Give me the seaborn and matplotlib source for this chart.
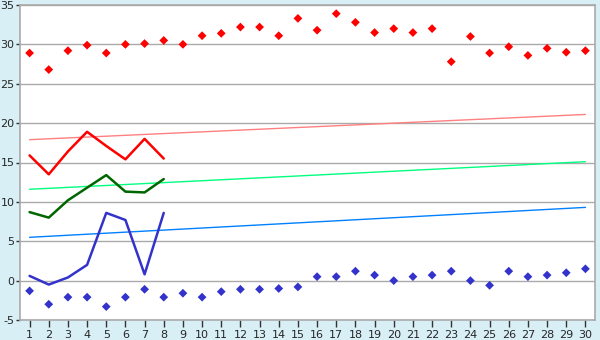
import matplotlib
matplotlib.use("Agg")
import matplotlib.pyplot as plt
import seaborn as sns
import pandas as pd

days = list(range(1, 31))
record_max = [28.9, 26.8, 29.2, 29.9, 28.9, 30.0, 30.1, 30.5, 30.0, 31.1,
              31.4, 32.2, 32.2, 31.1, 33.3, 31.8, 33.9, 32.8, 31.5, 32.0,
              31.5, 32.0, 27.8, 31.0, 28.9, 29.7, 28.6, 29.5, 29.0, 29.2]
record_min = [-1.3, -3.0, -2.1, -2.1, -3.3, -2.1, -1.1, -2.1, -1.6, -2.1,
              -1.4, -1.1, -1.1, -1.0, -0.8, 0.5, 0.5, 1.2, 0.7, 0.0,
              0.5, 0.7, 1.2, 0.0, -0.6, 1.2, 0.5, 0.7, 1.0, 1.5]
obs_days = list(range(1, 9))
obs_max = [15.9, 13.5, 16.4, 18.9, 17.1, 15.4, 18.0, 15.5]
obs_mean = [8.7, 8.0, 10.2, 11.8, 13.4, 11.3, 11.2, 12.9]
obs_min = [0.6, -0.5, 0.4, 2.0, 8.6, 7.7, 0.8, 8.6]
norm_days = [1, 30]
norm_max = [17.9, 21.1]
norm_mean = [11.6, 15.1]
norm_min = [5.5, 9.3]
y_ticks = [-5, 0, 5, 10, 15, 20, 25, 30, 35]

sns.set_style("white")
plt.rcParams['font.family'] = ['DejaVu Sans']
plt.rcParams['axes.unicode_minus'] = False

bg = "#D8EFF6"
fig = plt.figure(figsize=(6, 3.4), dpi=100, facecolor=bg)
ax = fig.add_axes([20/600, 20/340, 575/600, 315/340])
ax.set_facecolor("white")

for y in y_ticks:
    ax.axhline(y, color="#AAAAAA", lw=1, zorder=0)

sns.lineplot(x=norm_days, y=norm_max, color="#FF8080", lw=1, ax=ax)
sns.lineplot(x=norm_days, y=norm_mean, color="#00FF80", lw=1, ax=ax)
sns.lineplot(x=norm_days, y=norm_min, color="#0080FF", lw=1, ax=ax)

sns.lineplot(x=obs_days, y=obs_max, color="#FF0000", lw=1.8, ax=ax)
sns.lineplot(x=obs_days, y=obs_mean, color="#006600", lw=1.8, ax=ax)
sns.lineplot(x=obs_days, y=obs_min, color="#3333CC", lw=1.8, ax=ax)

sns.scatterplot(x=days, y=record_max, color="#FF0000", marker="D", s=20,
                edgecolor="none", ax=ax, zorder=5)
sns.scatterplot(x=days, y=record_min, color="#3333CC", marker="D", s=20,
                edgecolor="none", ax=ax, zorder=5)

ax.set_xlim(0.5, 30.5)
ax.set_ylim(-5, 35)
ax.set_xticks(days)
ax.set_xticklabels([str(d) for d in days])
ax.set_yticks(y_ticks)
ax.tick_params(axis="x", length=5, width=1, color="#333333", labelsize=8, pad=2, direction="out", bottom=True)
ax.tick_params(axis="y", length=3, width=1, color="#333333", labelsize=8, pad=1, direction="out", left=True)
for s in ax.spines.values():
    s.set_color("#AAAAAA")
    s.set_linewidth(1.2)
ax.set_xlabel("")
ax.set_ylabel("")

fig.savefig("out.png", dpi=100, facecolor=bg)
